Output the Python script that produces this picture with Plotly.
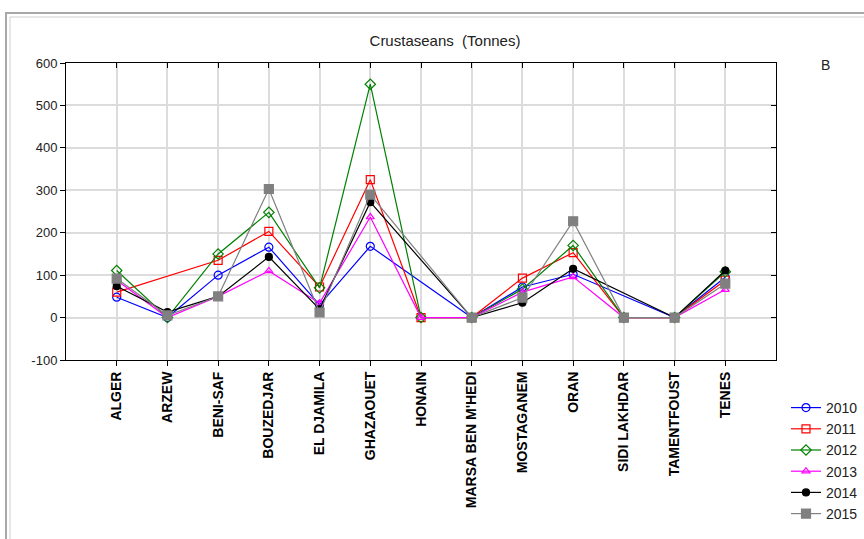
import plotly.graph_objects as go

# Landing ports and annual crustacean catches (tonnes); None = no record
ports = ["ALGER", "ARZEW", "BENI-SAF", "BOUZEDJAR", "EL DJAMILA", "GHAZAOUET",
         "HONAIN", "MARSA BEN M'HEDI", "MOSTAGANEM", "ORAN", "SIDI LAKHDAR",
         "TAMENTFOUST", "TENES"]

y2010 = [48, 0, 100, 166, 30, 168, None, 0, 72, 102, None, 0, 95]
y2011 = [60, None, 135, 203, 72, 325, 0, 0, 93, 153, 0, 0, 88]
y2012 = [111, 0, 150, 248, 70, 550, 0, 0, 67, 170, 0, 0, 108]
y2013 = [88, 0, 50, 110, 34, 237, 0, 0, 60, 96, 0, 0, 66]
y2014 = [74, 13, 50, 143, 20, 272, None, 0, 35, 115, None, 0, 111]
y2015 = [92, 5, 50, 303, 12, 290, None, 0, 47, 227, 0, 0, 80]

years = ["2010", "2011", "2012", "2013", "2014", "2015"]
series = [y2010, y2011, y2012, y2013, y2014, y2015]
colors = ["#0000ff", "#ff0000", "#008000", "#ff00ff", "#000000", "#808080"]
symbols = ["circle-open", "square-open", "diamond-open", "triangle-up-open",
           "circle", "square"]
sizes = [8, 8, 8, 7, 7, 9]
y_ticks = [-100, 0, 100, 200, 300, 400, 500, 600]
y_ticktext = [str(v) for v in y_ticks]

W, H = 864, 539
L, R, T, B = 66, 776, 63, 360

def px_x(p):
    return (p - L) / (R - L)

def px_y(p):
    return (B - p) / (B - T)

xs = list(range(len(ports)))
fig = go.Figure()
for name, vals, c, s, sz in zip(years, series, colors, symbols, sizes):
    fig.add_trace(go.Scatter(
        x=xs, y=vals, name=name, mode="lines+markers", connectgaps=True,
        line=dict(color=c, width=1.2),
        marker=dict(symbol=s, size=sz, color=c, line=dict(color=c, width=1.2)),
    ))

# invisible trace carrying the inward-tick axes on top and right
fig.add_trace(go.Scatter(x=[None], y=[None], xaxis="x2", yaxis="y2",
                         showlegend=False, hoverinfo="skip"))

fig.update_layout(
    width=W, height=H,
    margin=dict(l=L, r=W - R, t=T, b=H - B, autoexpand=False),
    paper_bgcolor="white", plot_bgcolor="white",
    font=dict(family="Arial, Liberation Sans", size=13, color="#222222"),
    title=dict(text="Crustaseans\u00a0 (Tonnes)", x=px_x(445), xref="paper",
               xanchor="center", y=1 - 41 / H, yanchor="middle",
               font=dict(size=15, color="#222222")),
    xaxis=dict(range=[-1, len(ports)], tickmode="array", tickvals=xs,
               ticktext=ports, tickangle=-90, ticks="outside", ticklen=5,
               tickcolor="black", showline=True, linecolor="black",
               linewidth=1, mirror=True, showgrid=True,
               gridcolor="#dcdcdc", gridwidth=1.5, zeroline=False,
               automargin=False,
               tickfont=dict(family="Arial, Liberation Sans", size=14,
                             color="black", weight="bold")),
    yaxis=dict(range=[-100, 600], tickmode="array", tickvals=y_ticks,
               ticktext=y_ticktext, ticks="outside",
               ticklen=5, tickcolor="black", showline=True,
               linecolor="black", linewidth=1, mirror=True, showgrid=True,
               gridcolor="#dcdcdc", gridwidth=1.5, zeroline=False,
               automargin=False,
               tickfont=dict(size=13, color="#222222")),
    xaxis2=dict(overlaying="x", side="top", range=[-1, len(ports)],
                tickmode="array", tickvals=xs, ticks="inside", ticklen=5,
                tickcolor="black", showticklabels=False, showgrid=False,
                zeroline=False, showline=False),
    yaxis2=dict(overlaying="y", side="right", range=[-100, 600],
                tickvals=y_ticks, ticks="inside", ticklen=5,
                tickcolor="black", showticklabels=False, showgrid=False,
                zeroline=False, showline=False),
    legend=dict(x=px_x(786), xanchor="left", y=px_y(392), yanchor="top",
                font=dict(size=14, color="#222222"), itemwidth=30,
                bgcolor="rgba(0,0,0,0)", tracegroupgap=0),
    showlegend=True,
    annotations=[dict(text="B", x=px_x(832), y=px_y(55), xref="paper",
                      yref="paper", showarrow=False,
                      font=dict(size=14, color="#222222"))],
    shapes=[
        dict(type="rect", xref="paper", yref="paper",
             x0=px_x(6), y0=px_y(H + 20), x1=px_x(W + 20), y1=px_y(13),
             line=dict(color="#a8a8a8", width=2), layer="below"),
        dict(type="rect", xref="paper", yref="paper",
             x0=px_x(10), y0=px_y(H + 20), x1=px_x(W + 20), y1=px_y(17),
             line=dict(color="#cfcfcf", width=1), layer="below"),
    ],
)

fig.write_html("out.html")
